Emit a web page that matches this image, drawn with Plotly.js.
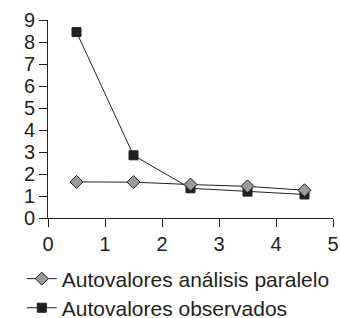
<!DOCTYPE html>
<html><head><meta charset="utf-8">
<script src="https://cdn.plot.ly/plotly-3.0.1.min.js"></script>
<style>html,body{margin:0;padding:0;background:#fff}#c{width:340px;height:318px}</style>
</head><body><div id="c"></div>
<script>
const xs = [0.5, 1.5, 2.5, 3.5, 4.5];
const observados = [8.45, 2.85, 1.35, 1.2, 1.07];
const paralelo = [1.64, 1.63, 1.52, 1.44, 1.26];
const names = ["Autovalores observados", "Autovalores análisis paralelo"];

const ink = "#231f20";
const fam = "Liberation Sans, Arial, sans-serif";
const data = [
  {x: xs, y: observados, name: names[0], mode: "lines+markers", type: "scatter", legend: "legend2",
   line: {color: ink, width: 1},
   marker: {symbol: "square", size: 9, color: ink, line: {color: ink, width: 1}}},
  {x: xs, y: paralelo, name: names[1], mode: "lines+markers", type: "scatter", legend: "legend",
   line: {color: ink, width: 1},
   marker: {symbol: "diamond", size: 10, color: "#9a9a9a", line: {color: ink, width: 1}}}
];
const axisCommon = {showgrid: false, zeroline: false, showline: true, linecolor: ink, linewidth: 1,
  ticks: "outside", ticklen: 8, tickcolor: ink, tickwidth: 1, dtick: 1,
  tickfont: {size: 20, color: ink, family: fam}};
const legendCommon = {orientation: "v", x: -0.092, xanchor: "left", yanchor: "middle",
  font: {size: 21, color: ink, family: fam}, itemwidth: 30, bgcolor: "rgba(0,0,0,0)"};
const layout = {
  width: 340, height: 318,
  margin: {l: 48, r: 7, t: 20, b: 100, autoexpand: false},
  paper_bgcolor: "#fff", plot_bgcolor: "#fff",
  font: {family: fam, color: ink, size: 20},
  xaxis: Object.assign({}, axisCommon, {range: [0, 5], tick0: 0}),
  yaxis: Object.assign({}, axisCommon, {range: [0, 9], tick0: 0}),
  showlegend: true,
  legend: Object.assign({}, legendCommon, {y: -0.308}),
  legend2: Object.assign({}, legendCommon, {y: -0.455})
};
Plotly.newPlot("c", data, layout, {displayModeBar: false, staticPlot: true});
</script></body></html>
